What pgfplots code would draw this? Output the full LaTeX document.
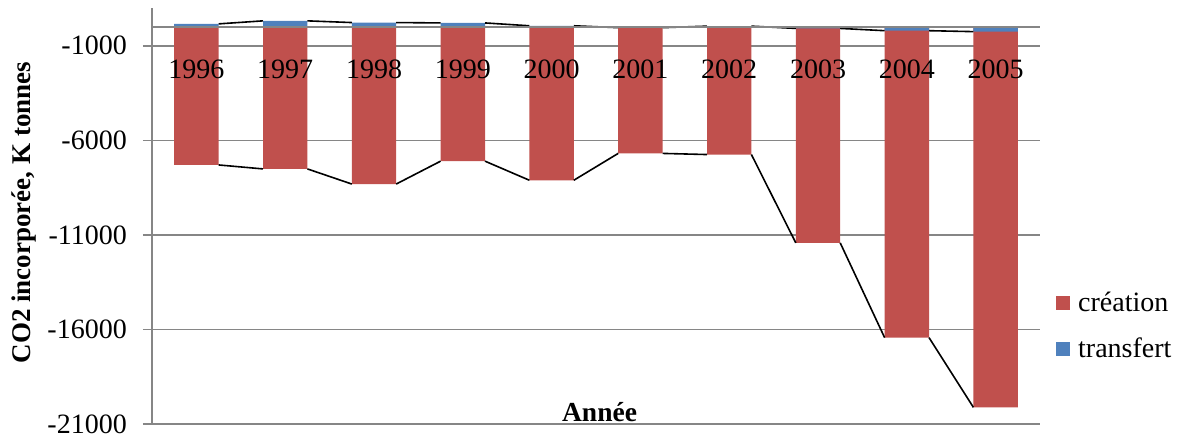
\documentclass[border=0pt]{standalone}
\usepackage{pgfplots}
\pgfplotsset{compat=1.18}
\usepackage{pgfplotstable}
\usepackage{fontspec}
\setmainfont{Liberation Serif}

\definecolor{creation}{RGB}{192,80,77}
\definecolor{transfert}{RGB}{79,129,189}
\definecolor{gridgray}{RGB}{134,134,134}

% grid below the bars, axis lines and tick labels above them
\pgfplotsset{
  layers/excel/.define layer set={axis background,axis grid,main,axis ticks,axis lines,axis tick labels,axis descriptions,axis foreground}{
    grid style={/pgfplots/on layer=axis grid},
    tick style={/pgfplots/on layer=axis ticks},
    axis line style={/pgfplots/on layer=axis lines},
    label style={/pgfplots/on layer=axis descriptions},
    legend style={/pgfplots/on layer=axis descriptions},
    ticklabel style={/pgfplots/on layer=axis tick labels},
  },
}

% cre = création, tra = transfert (K tonnes)
\pgfplotstableread{
x  annee cre    tra
0  1996  -7300   160
1  1997  -7510   320
2  1998  -8310   230
3  1999  -7100   210
4  2000  -8110    60
5  2001  -6650   -40
6  2002  -6750    40
7  2003  -11340  -80
8  2004  -16230 -200
9  2005  -19870 -250
}\co

\begin{document}
\begin{tikzpicture}
\begin{axis}[
    set layers=excel,
    scale only axis,
    width=888bp, height=416bp,
    xmin=-0.5, xmax=9.5,
    ymin=-21000, ymax=1000,
    scaled y ticks=false,
    axis x line*=middle,
    axis y line*=left,
    axis line style={gridgray, line width=1.5bp},
    xtick={0,...,9},
    xticklabels from table={\co}{annee},
    xtick style={draw=none},
    xticklabel style={anchor=base, inner sep=0pt, yshift=-43bp},
    ytick={-21000,-16000,-11000,-6000,-1000},
    yticklabels={-21000,-16000,-11000,-6000,-1000},
    ytick style={gridgray, line width=1.5bp},
    tick align=outside,
    major tick length=9bp,
    yticklabel style={anchor=east, inner sep=0pt, xshift=-16bp},
    tick label style={font=\fontsize{28bp}{30bp}\selectfont},
    ymajorgrids,
    grid style={gridgray, line width=1.5bp},
    ylabel={CO2 incorporée, K tonnes},
    ylabel style={font=\bfseries\fontsize{27bp}{29bp}\selectfont,
      at={(axis description cs:-0.1363,0.508)}, anchor=base, inner sep=0pt},
    xlabel={Année},
    xlabel style={font=\bfseries\fontsize{27.5bp}{29bp}\selectfont,
      at={(axis description cs:0.504,0.005)}, anchor=base, inner sep=0pt},
    legend style={draw=none, fill=none, at={(axis description cs:1.018,0.322)},
      anchor=north west, inner sep=0pt, row sep=21bp,
      font=\fontsize{28bp}{30bp}\selectfont},
    legend cell align=left,
    /tikz/every odd column/.append style={column sep=6bp},
    legend image code/.code={\fill[#1] (0bp,-7bp) rectangle (14bp,7bp);},
]
\addplot[ybar, bar width=0.5, bar shift=0pt, fill=creation, draw=none]
  table[x=x, y expr={\thisrow{cre}+min(\thisrow{tra},0)}] {\co};
\addplot[ybar, bar width=0.5, bar shift=0pt, fill=transfert, draw=none]
  table[x=x, y=tra] {\co};
% series lines between the bars
\addplot[black, line width=1.6bp, unbounded coords=jump, forget plot] coordinates {
  (0.25,-7300) (0.75,-7510) (1,nan)
  (1.25,-7510) (1.75,-8310) (2,nan)
  (2.25,-8310) (2.75,-7100) (3,nan)
  (3.25,-7100) (3.75,-8110) (4,nan)
  (4.25,-8110) (4.75,-6690) (5,nan)
  (5.25,-6690) (5.75,-6750) (6,nan)
  (6.25,-6750) (6.75,-11420) (7,nan)
  (7.25,-11420) (7.75,-16430) (8,nan)
  (8.25,-16430) (8.75,-20120)
};
\addplot[black, line width=1.6bp, unbounded coords=jump, forget plot] coordinates {
  (0.25,160) (0.75,320) (1,nan)
  (1.25,320) (1.75,230) (2,nan)
  (2.25,230) (2.75,210) (3,nan)
  (3.25,210) (3.75,60) (4,nan)
  (4.25,60) (4.75,-40) (5,nan)
  (5.25,-40) (5.75,40) (6,nan)
  (6.25,40) (6.75,-80) (7,nan)
  (7.25,-80) (7.75,-200) (8,nan)
  (8.25,-200) (8.75,-250)
};
\legend{création, transfert}
\coordinate (ll) at (rel axis cs:0,0);
\coordinate (ur) at (rel axis cs:1,1);
\end{axis}
\pgfresetboundingbox
\path[use as bounding box] ([shift={(-152bp,-12bp)}]ll) rectangle ([shift={(148bp,8bp)}]ur);
\end{tikzpicture}
\end{document}
